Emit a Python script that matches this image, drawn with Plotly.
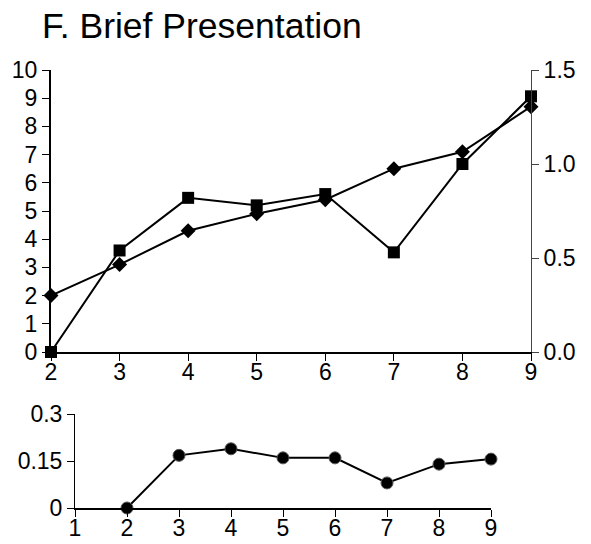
import plotly.graph_objects as go

W, H = 591, 544

x_top = [2, 3, 4, 5, 6, 7, 8, 9]
diamond_vals = [2.0, 3.1, 4.3, 4.9, 5.4, 6.5, 7.1, 8.7]           # left axis
square_vals = [0.0, 0.54, 0.82, 0.78, 0.84, 0.53, 1.0, 1.36]     # right axis
x_bot = [2, 3, 4, 5, 6, 7, 8, 9]
circle_vals = [0.0, 0.168, 0.189, 0.16, 0.16, 0.08, 0.14, 0.156]

left_ticks = list(range(0, 11))
right_ticks = [0.0, 0.5, 1.0, 1.5]
right_labels = ["0.0", "0.5", "1.0", "1.5"]
bot_y_ticks = [0, 0.15, 0.3]
bot_y_labels = ["0", "0.15", "0.3"]
bot_x_ticks = list(range(1, 10))

FONT = "Liberation Sans, Arial, sans-serif"

def px_x(a, b):
    return [a / W, b / W]

def px_y(top, bottom):
    return [1 - bottom / H, 1 - top / H]

fig = go.Figure()
fig.add_trace(go.Scatter(x=x_top, y=diamond_vals, mode="lines+markers",
                         line=dict(color="black", width=2),
                         marker=dict(symbol="diamond", size=11.5, color="black"),
                         xaxis="x", yaxis="y", cliponaxis=False))
fig.add_trace(go.Scatter(x=x_top, y=square_vals, mode="lines+markers",
                         line=dict(color="black", width=2),
                         marker=dict(symbol="square", size=12, color="black"),
                         xaxis="x", yaxis="y2", cliponaxis=False))
fig.add_trace(go.Scatter(x=x_bot, y=circle_vals, mode="lines+markers",
                         line=dict(color="black", width=2),
                         marker=dict(symbol="circle", size=12, color="black",
                                     line=dict(color="#555", width=1)),
                         xaxis="x2", yaxis="y3", cliponaxis=False))

tickfont = dict(family=FONT, size=23, color="black")
common = dict(showgrid=False, zeroline=False, tickfont=tickfont,
              automargin=False, ticks="outside", ticklen=7, tickwidth=1)

fig.update_layout(
    template="none",
    width=W, height=H,
    margin=dict(l=0, r=0, t=0, b=0, pad=0),
    paper_bgcolor="white", plot_bgcolor="white",
    showlegend=False,
    font=dict(family=FONT, color="black"),
    xaxis=dict(domain=px_x(51, 531), range=[2, 9], tickvals=x_top,
               showline=True, linecolor="black", linewidth=2,
               tickcolor="black", anchor="y", ticklabelstandoff=-9, **common),
    yaxis=dict(domain=px_y(70, 352), range=[0, 10], tickvals=left_ticks,
               showline=True, linecolor="black", linewidth=2,
               tickcolor="black", anchor="x", **common),
    yaxis2=dict(domain=px_y(70, 352), range=[0, 1.5], tickvals=right_ticks,
                ticktext=right_labels, overlaying="y", side="right",
                showline=True, linecolor="#444", linewidth=1,
                tickcolor="#444", anchor="x", **common),
    xaxis2=dict(domain=px_x(75, 491), range=[1, 9], tickvals=bot_x_ticks,
                showline=True, linecolor="black", linewidth=2,
                tickcolor="black", anchor="y3", ticklabelstandoff=-9, **common),
    yaxis3=dict(domain=px_y(414, 508), range=[0, 0.3], tickvals=bot_y_ticks,
                ticktext=bot_y_labels,
                showline=True, linecolor="black", linewidth=1,
                tickcolor="black", anchor="x2", **common),
    annotations=[dict(text="F. Brief Presentation", x=40 / W, y=1 - 26.5 / H,
                      xref="paper", yref="paper", xanchor="left", yanchor="middle",
                      showarrow=False,
                      font=dict(family=FONT, size=35.5, color="black"))],
)

fig.write_html("out.html")
